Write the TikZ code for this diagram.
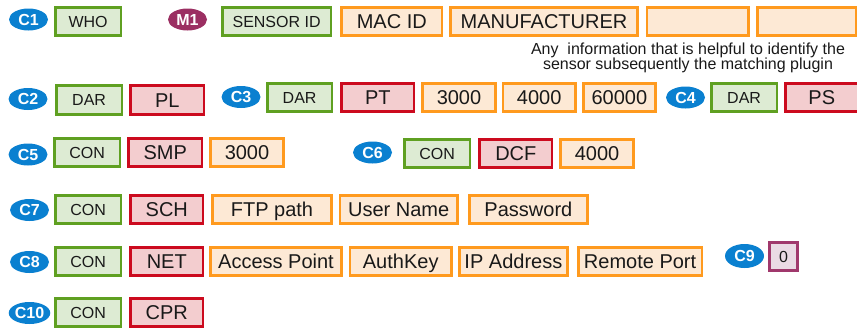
\documentclass[tikz,border=0pt]{standalone}
\usepackage{fontspec}
\setmainfont{Liberation Sans}
\usetikzlibrary{shapes,positioning}
\definecolor{tagblue}{HTML}{0A80D0}
\definecolor{tagpurple}{HTML}{9B2F62}
\definecolor{grnline}{HTML}{5FA021}
\definecolor{grnfill}{HTML}{DDEBD3}
\definecolor{redline}{HTML}{CC0A1E}
\definecolor{redfill}{HTML}{F3CDCF}
\definecolor{orgline}{HTML}{FF9A1E}
\definecolor{orgfill}{HTML}{FDE9D5}
\definecolor{purline}{HTML}{A0386C}
\definecolor{purfill}{HTML}{EADAE4}

\begin{document}
\begin{tikzpicture}
[x=1pt,y=-1pt]
\tikzset{
	ctag/.style = {ellipse, fill = tagblue, text = white, inner sep = 0, minimum width = 39pt, minimum height = 22pt, font = \fontsize{16}{16}\selectfont\bfseries},
	mtag/.style = {ctag, fill = tagpurple},
	plainbox/.style = {rectangle, line width = 2.7pt, inner sep = 0, minimum height = 28.5pt, text = black!90},
	smalltext/.style = {font = \fontsize{16}{16}\selectfont, text height = 11.5pt, text depth = 0pt},
	bigtext/.style = {font = \fontsize{20}{20}\selectfont, text height = 14.3pt, text depth = 0pt},
	greenbox/.style = {plainbox, smalltext, draw = grnline, fill = grnfill, minimum width = 65.5pt},
	redbox/.style = {plainbox, bigtext, draw = redline, fill = redfill, minimum width = 72.5pt},
	orangebox/.style = {plainbox, bigtext, draw = orgline, fill = orgfill, minimum width = 72.5pt},
	purplebox/.style = {plainbox, smalltext, draw = purline, fill = purfill, minimum width = 28.5pt},
	node distance = 6pt
}
\useasboundingbox (0,0) rectangle (857,330);

% sensor identification
\node (c1) [ctag] at (28.5,19.5) {C1};
\node (who) [greenbox, anchor = west] at (54,21.5) {WHO};
\node (m1) [mtag] at (187.5,19.5) {M1};
\node (sensor) [greenbox, minimum width = 108.5pt, anchor = west] at (221,21.5) {SENSOR ID};
\node (mac) [orangebox, minimum width = 100.5pt, right = 8pt of sensor] {MAC ID};
\node (manu) [orangebox, minimum width = 186.5pt, right = of mac] {MANUFACTURER};
\node (free1) [orangebox, minimum width = 101.5pt, right = 7pt of manu] {};
\node (free2) [orangebox, minimum width = 99.5pt, right = of free1] {};
\node (hint) [align = center, inner sep = 0, anchor = north, text = black!90, font = \fontsize{16}{15}\selectfont] at (688,42.5)
	{Any~ information that is helpful to identify the\\sensor subsequently the matching plugin};

% DAR
\node (c2) [ctag] at (28,99) {C2};
\node (dar2) [greenbox, anchor = west] at (55,100) {DAR};
\node (pl) [redbox, minimum width = 73.5pt, right = of dar2] {PL};
\node (c3) [ctag] at (241,97) {C3};
\node (dar3) [greenbox, minimum width = 64.5pt, anchor = west] at (266,97.5) {DAR};
\node (pt) [redbox, right = 7pt of dar3] {PT};
\node (pt1) [orangebox, right = of pt] {3000};
\node (pt2) [orangebox, right = 5pt of pt1] {4000};
\node (pt3) [orangebox, right = 5pt of pt2] {60000};
\node (c4) [ctag] at (685.5,97.5) {C4};
\node (dar4) [greenbox, anchor = west] at (710,97.5) {DAR};
\node (ps) [redbox, right = of dar4] {PS};

% CON
\node (c5) [ctag] at (28,154.5) {C5};
\node (con5) [greenbox, anchor = west] at (53,152.5) {CON};
\node (smp) [redbox, minimum width = 73.5pt, right = of con5] {SMP};
\node (smp1) [orangebox, right = of smp] {3000};
\node (c6) [ctag] at (372.5,152.5) {C6};
\node (con6) [greenbox, anchor = west] at (403,153.5) {CON};
\node (dcf) [redbox, right = 7pt of con6] {DCF};
\node (dcf1) [orangebox, right = of dcf] {4000};

\node (c7) [ctag] at (29.5,210) {C7};
\node (con7) [greenbox, anchor = west] at (54,209.5) {CON};
\node (sch) [redbox, right = 7pt of con7] {SCH};
\node (ftp) [orangebox, minimum width = 118.5pt, right = 7pt of sch] {FTP path};
\node (user) [orangebox, minimum width = 117.5pt, right = of ftp] {User Name};
\node (pass) [orangebox, minimum width = 118.5pt, right = 9pt of user] {Password};

\node (c8) [ctag] at (29.5,262) {C8};
\node (con8) [greenbox, anchor = west] at (54,261.5) {CON};
\node (net) [redbox, right = 7pt of con8] {NET};
\node (ap) [orangebox, minimum width = 130.5pt, right = 5pt of net] {Access Point};
\node (auth) [orangebox, minimum width = 101.5pt, right = of ap] {AuthKey};
\node (ip) [orangebox, minimum width = 108.5pt, right = 5pt of auth] {IP Address};
\node (port) [orangebox, minimum width = 123.5pt, right = 8pt of ip] {Remote Port};
\node (c9) [ctag, minimum height = 24pt] at (744.5,256) {C9};
\node (zero) [purplebox] at (783.5,256.5) {0};

\node (c10) [ctag] at (29.5,313) {C10};
\node (con10) [greenbox, anchor = west] at (54,312.5) {CON};
\node (cpr) [redbox, right = 7pt of con10] {CPR};

\end{tikzpicture}
\end{document}
